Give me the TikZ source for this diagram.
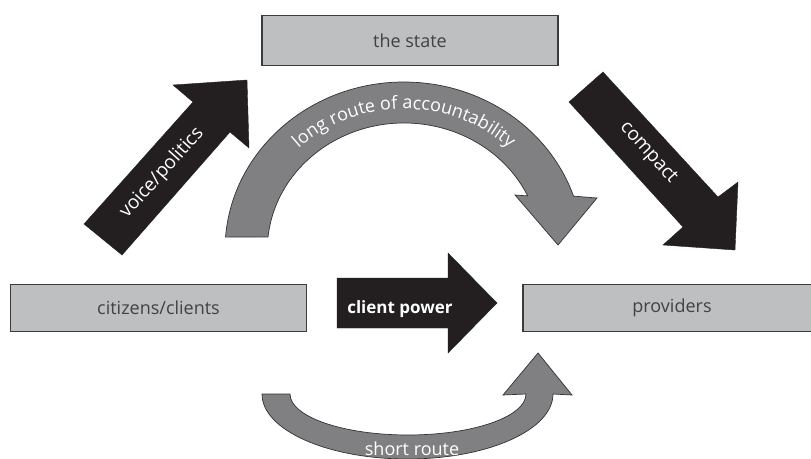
\documentclass[tikz,border=0pt]{standalone}
\usepackage{fontspec}
\setmainfont{Open Sans}
\usetikzlibrary{decorations.text}
\definecolor{boxfill}{RGB}{190,191,193}
\definecolor{boxline}{RGB}{60,60,62}
\definecolor{boxtext}{RGB}{66,66,70}
\definecolor{darkarrow}{RGB}{35,31,32}
\definecolor{greyarrow}{RGB}{128,128,130}
\definecolor{greyline}{RGB}{50,50,52}
\begin{document}
\begin{tikzpicture}[x=1pt,y=-1pt,
  box/.style={draw=boxline, line width=1.2pt, fill=boxfill, inner sep=0pt,
    text=boxtext, font=\fontsize{18}{20}\selectfont},
  blackarrow/.style={fill=darkarrow, draw=darkarrow, line width=0.4pt, line join=miter},
  greyblock/.style={fill=greyarrow, draw=greyline, line width=0.7pt, line join=miter},
  arrowlabel/.style={text=white, inner sep=0pt, font=\fontsize{19}{21}\selectfont}]
\useasboundingbox (0,0) rectangle (811,458);
\clip (0,0) rectangle (811,458);
\fill[white] (0,0) rectangle (811,458);

% boxes
\node[box, minimum width=296pt, minimum height=50pt] (state) at (410,40.5) {the state};
\node[box, minimum width=296pt, minimum height=47pt] (citizens) at (158.5,308) {citizens/clients};
\node[box, minimum width=298pt, minimum height=47pt] (providers) at (672,308) {providers};

% voice/politics arrow
\path[blackarrow] (84,224) -- (193,102) -- (173,85) -- (247,80) -- (249,148) -- (230,132) -- (122,255) -- cycle;
\node[arrowlabel, rotate=48] (voice) at (162,173) {voice/politics};

% compact arrow
\path[blackarrow] (603,72) -- (718,197) -- (738,182) -- (735,250) -- (663,245) -- (683,227) -- (569,102) -- cycle;
\node[arrowlabel, rotate=-48] (compact) at (648,153) {compact};

% client power arrow
\path[blackarrow] (337,278) -- (448,278) -- (448,253) -- (497,303) -- (448,353) -- (448,328) -- (337,328) -- cycle;
\node[arrowlabel, anchor=base, font=\bfseries\fontsize{17}{19}\selectfont] (power) at (400,313) {client power};

% long route of accountability
\path[greyblock] (225.53,237.11) arc[start angle=184.4, end angle=341.3, x radius=179, y radius=168]
  -- (597,198) -- (558,245) -- (515,195) -- (527.69,195.93)
  arc[start angle=334.8, end angle=185.9, x radius=136.7, y radius=127] -- cycle;
\path[decorate, decoration={text along path, text align=center,
  text={|\color{white}\fontsize{18}{20}\selectfont|long route of accountability}}]
  (404,250) ++(200:152 and 141) arc[start angle=200, end angle=340, x radius=152, y radius=141];

% short route
\path[greyblock] (262,394) arc[start angle=180, end angle=0, x radius=145.5, y radius=65]
  -- (572,395) -- (538,353) -- (503,395) -- (526,394)
  arc[start angle=0, end angle=180, x radius=118, y radius=41] -- cycle;
\node[arrowlabel, anchor=base, font=\fontsize{18}{20}\selectfont] (short) at (412,455) {short route};
\end{tikzpicture}
\end{document}
